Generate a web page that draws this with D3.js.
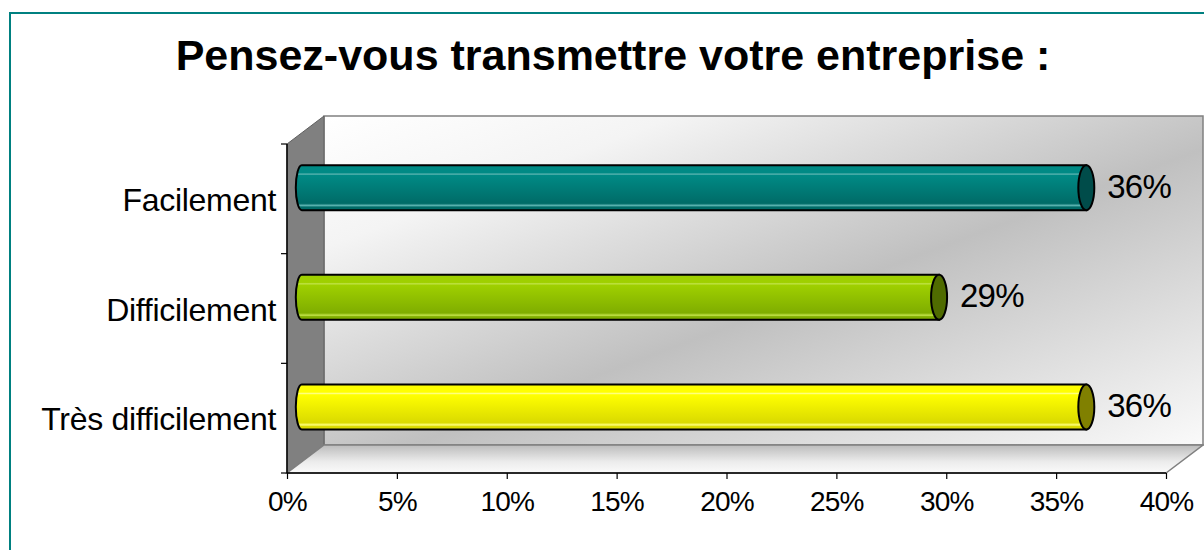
<!DOCTYPE html>
<html>
<head>
<meta charset="utf-8">
<script src="https://cdn.jsdelivr.net/npm/d3@7"></script>
<style>
  body { margin: 0; background: #fff; }
  text { font-family: Arial, "Liberation Sans", sans-serif; fill: #000; }
</style>
</head>
<body>
<svg id="svg1" width="1204" height="550"></svg>
<script>
const categories = ["Facilement", "Difficilement", "Très difficilement"];
const values = [35.7, 29.0, 35.7];
const valueLabels = ["36%", "29%", "36%"];
const tickValues = [0, 5, 10, 15, 20, 25, 30, 35, 40];

// colours per bar: highlight, top of body, bottom, end cap
const barColors = [
  { hi: "#5db5b2", top: "#008a85", bot: "#006b67", cap: "#004c4a" },
  { hi: "#c2e34a", top: "#9fd000", bot: "#7fad00", cap: "#4f6b00" },
  { hi: "#ffff80", top: "#ffff00", bot: "#dada00", cap: "#808000" }
];

const svg1 = d3.select("#svg1");
const width1 = +svg1.attr("width");
const height1 = +svg1.attr("height");

// front plane of the 3d box
const plotLeft = 287, plotRight = 1166, plotTop = 144, plotBottom = 473;
const depthX = 37, depthY = -28;   // oblique depth of the box
const barDepth = 0.4;              // bars sit a bit behind the front plane

const xScale = d3.scaleLinear().domain([0, 40]).range([plotLeft, plotRight]);
const yScale = d3.scaleBand().domain(categories).range([plotTop, plotBottom]);

const defs = svg1.append("defs");

// back wall: light at corners, grey across the anti-diagonal
const wallGrad = defs.append("linearGradient").attr("id", "wall")
  .attr("x1", 0).attr("y1", 0).attr("x2", 1).attr("y2", 1);
wallGrad.append("stop").attr("offset", 0).attr("stop-color", "#ffffff");
wallGrad.append("stop").attr("offset", 0.2).attr("stop-color", "#f4f4f4");
wallGrad.append("stop").attr("offset", 0.55).attr("stop-color", "#c0c0c0");
wallGrad.append("stop").attr("offset", 1).attr("stop-color", "#fafafa");

const floorGrad = defs.append("linearGradient").attr("id", "floor")
  .attr("x1", 0).attr("y1", 0).attr("x2", 0).attr("y2", 1);
floorGrad.append("stop").attr("offset", 0).attr("stop-color", "#bcbcbc");
floorGrad.append("stop").attr("offset", 0.6).attr("stop-color", "#ececec");
floorGrad.append("stop").attr("offset", 1).attr("stop-color", "#fafafa");

barColors.forEach((c, i) => {
  const g = defs.append("linearGradient").attr("id", "bar" + i)
    .attr("x1", 0).attr("y1", 0).attr("x2", 0).attr("y2", 1);
  [[0, c.top], [0.17, c.top], [0.2, c.hi], [0.23, c.top], [0.85, c.bot],
   [0.9, c.hi], [0.93, c.bot], [1, c.bot]].forEach(s =>
    g.append("stop").attr("offset", s[0]).attr("stop-color", s[1]));
});

// outer frame
svg1.append("rect")
  .attr("x", 10).attr("y", 13).attr("width", width1 + 20).attr("height", height1 + 20)
  .attr("fill", "#fff").attr("stroke", "#008080").attr("stroke-width", 2);

// title
svg1.append("text")
  .attr("x", 613).attr("y", 70)
  .attr("text-anchor", "middle")
  .style("font-size", "43px").style("font-weight", "bold")
  .text("Pensez-vous transmettre votre entreprise :");

const a = svg1.append("g");
const pt = (x, y) => [x, y];
const poly = pts => "M" + pts.map(p => p.join(",")).join("L") + "Z";

// back wall
a.append("rect")
  .attr("x", plotLeft + depthX).attr("y", plotTop + depthY)
  .attr("width", plotRight - plotLeft).attr("height", plotBottom - plotTop)
  .attr("fill", "url(#wall)").attr("stroke", "#808080").attr("stroke-width", 1.5);

// left wall
a.append("path")
  .attr("d", poly([pt(plotLeft, plotTop), pt(plotLeft + depthX, plotTop + depthY),
    pt(plotLeft + depthX, plotBottom + depthY), pt(plotLeft, plotBottom)]))
  .attr("fill", "#808080").attr("stroke", "#606060").attr("stroke-width", 1);

// floor
a.append("path")
  .attr("d", poly([pt(plotLeft, plotBottom), pt(plotLeft + depthX, plotBottom + depthY),
    pt(plotRight + depthX, plotBottom + depthY), pt(plotRight, plotBottom)]))
  .attr("fill", "url(#floor)").attr("stroke", "#808080").attr("stroke-width", 1.5);

// bottom axis
const xAxis = d3.axisBottom(xScale)
  .tickValues(tickValues)
  .tickFormat(d => d + "%")
  .tickSize(6)
  .tickPadding(12);
const xAxisA = a.append("g").attr("transform", `translate(0, ${plotBottom})`).call(xAxis);
xAxisA.attr("font-family", null).attr("font-size", null);
xAxisA.select(".domain").attr("stroke", "#000").attr("stroke-width", 1.5).attr("d", `M${plotLeft},0H${plotRight}`);
xAxisA.selectAll(".tick line").attr("stroke", "#000").attr("stroke-width", 1.2);
xAxisA.selectAll(".tick text")
  .style("font-size", "28px").style("letter-spacing", "-0.8px")
  .attr("fill", "#000");

// left axis: ticks at category boundaries
const yAxisA = a.append("g");
yAxisA.append("line")
  .attr("x1", plotLeft).attr("x2", plotLeft).attr("y1", plotTop).attr("y2", plotBottom)
  .attr("stroke", "#000").attr("stroke-width", 1.5);
const bounds = categories.map(c => yScale(c)).concat([plotBottom]);
yAxisA.selectAll("line.tk").data(bounds).enter().append("line")
  .attr("class", "tk")
  .attr("x1", plotLeft - 6).attr("x2", plotLeft)
  .attr("y1", d => d).attr("y2", d => d)
  .attr("stroke", "#000").attr("stroke-width", 1.2);
yAxisA.selectAll("text").data(categories).enter().append("text")
  .attr("x", 276)
  .attr("y", d => yScale(d) + yScale.bandwidth() / 2 + 12)
  .attr("text-anchor", "end")
  .style("font-size", "32px").style("letter-spacing", "-0.3px")
  .text(d => d);

// cylinder bars
const barH = 45, capRx = 8;
const offX = depthX * barDepth, offY = depthY * barDepth;
const bars = a.selectAll("g.bar").data(categories).enter().append("g").attr("class", "bar");

bars.append("path")
  .attr("d", (d, i) => {
    const x0 = xScale(0) + offX, x1 = xScale(values[i]) + offX;
    const cy = yScale(d) + yScale.bandwidth() / 2 + offY;
    const t = cy - barH / 2, b = cy + barH / 2;
    return `M${x0},${t}L${x1},${t}L${x1},${b}L${x0},${b}A${capRx - 2},${barH / 2} 0 0 1 ${x0},${t}Z`;
  })
  .attr("fill", (d, i) => `url(#bar${i})`)
  .attr("stroke", "#000").attr("stroke-width", 2);

bars.append("ellipse")
  .attr("cx", (d, i) => xScale(values[i]) + offX)
  .attr("cy", d => yScale(d) + yScale.bandwidth() / 2 + offY)
  .attr("rx", capRx).attr("ry", barH / 2)
  .attr("fill", (d, i) => barColors[i].cap)
  .attr("stroke", "#000").attr("stroke-width", 2);

bars.append("text")
  .attr("x", (d, i) => xScale(values[i]) + offX + 21)
  .attr("y", d => yScale(d) + yScale.bandwidth() / 2 + offY + 10)
  .style("font-size", "33px").style("letter-spacing", "-0.8px")
  .text((d, i) => valueLabels[i]);
</script>
</body>
</html>
